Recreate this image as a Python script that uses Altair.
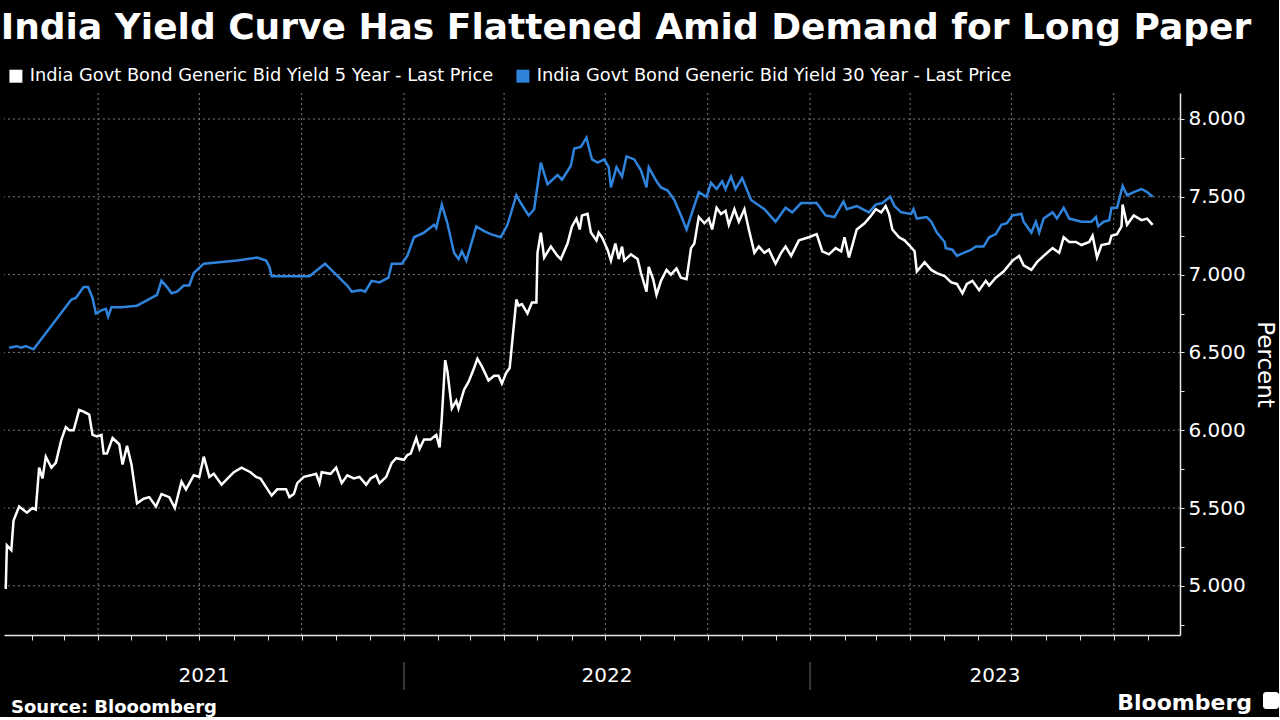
import altair as alt
import pandas as pd

TITLE = "India Yield Curve Has Flattened Amid Demand for Long Paper"
S5 = "India Govt Bond Generic Bid Yield 5 Year - Last Price"
S30 = "India Govt Bond Generic Bid Yield 30 Year - Last Price"
SOURCE = "Source: Blooomberg"
BRAND = "Bloomberg"
Y_TITLE = "Percent"

# days since 2021-01-01 and yields (percent)
d30 = [10, 17, 21, 25, 32, 66, 70, 77, 81, 85,
       88, 93, 97, 99, 102, 111, 125, 138, 143, 147,
       152, 156, 161, 167, 172, 176, 185, 215, 233, 241,
       244, 246, 280, 294, 314, 318, 326, 330, 336, 343,
       351, 354, 363, 368, 374, 383, 392, 394, 399, 404,
       410, 414, 417, 421, 430, 437, 443, 452, 458, 466,
       470, 477, 482, 488, 494, 503, 507, 515, 518, 524,
       529, 530, 534, 539, 545, 549, 551, 556, 561, 565,
       572, 578, 583, 585, 592, 596, 602, 608, 614, 619,
       624, 630, 637, 641, 646, 651, 654, 659, 663, 669,
       677, 689, 699, 708, 714, 722, 736, 744, 752, 760,
       763, 772, 783, 789, 795, 802, 806, 812, 821, 823,
       826, 835, 839, 844, 851, 852, 858, 862, 868, 875,
       879, 886, 891, 897, 902, 907, 912, 920, 922, 929,
       933, 936, 940, 948, 952, 958, 963, 974, 983, 987,
       989, 994, 999, 1001, 1006, 1011, 1015, 1021, 1028, 1033,
       1038]
v30 = [6.53, 6.54, 6.53, 6.54, 6.52, 6.84, 6.85, 6.92, 6.92, 6.85,
       6.75, 6.77, 6.78, 6.73, 6.79, 6.79, 6.80, 6.85, 6.87, 6.96,
       6.92, 6.88, 6.89, 6.93, 6.93, 7.01, 7.07, 7.09, 7.11, 7.09,
       7.05, 6.99, 6.99, 7.07, 6.93, 6.89, 6.90, 6.89, 6.96, 6.95,
       6.98, 7.07, 7.07, 7.12, 7.24, 7.27, 7.32, 7.30, 7.45, 7.33,
       7.14, 7.10, 7.15, 7.09, 7.31, 7.28, 7.26, 7.24, 7.32, 7.51,
       7.46, 7.38, 7.42, 7.72, 7.58, 7.64, 7.61, 7.70, 7.81, 7.82,
       7.88, 7.85, 7.74, 7.72, 7.74, 7.69, 7.56, 7.69, 7.63, 7.76,
       7.74, 7.67, 7.56, 7.69, 7.60, 7.56, 7.54, 7.48, 7.38, 7.29,
       7.40, 7.53, 7.50, 7.59, 7.55, 7.60, 7.55, 7.63, 7.55, 7.62,
       7.48, 7.42, 7.34, 7.43, 7.40, 7.46, 7.46, 7.38, 7.37, 7.47,
       7.42, 7.44, 7.40, 7.45, 7.46, 7.50, 7.44, 7.40, 7.39, 7.42,
       7.36, 7.37, 7.34, 7.27, 7.21, 7.17, 7.16, 7.12, 7.14, 7.16,
       7.18, 7.18, 7.24, 7.26, 7.32, 7.33, 7.38, 7.39, 7.34, 7.27,
       7.34, 7.27, 7.36, 7.40, 7.36, 7.43, 7.36, 7.34, 7.34, 7.37,
       7.31, 7.34, 7.35, 7.43, 7.43, 7.57, 7.51, 7.53, 7.55, 7.53,
       7.50]

d5 = [7, 8, 12, 14, 19, 26, 31, 34, 37, 40,
      43, 48, 52, 57, 61, 64, 68, 73, 77, 82,
      85, 89, 93, 95, 98, 103, 109, 112, 116, 120,
      125, 131, 136, 142, 147, 154, 159, 165, 169, 176,
      181, 185, 190, 194, 201, 212, 219, 227, 232, 236,
      246, 251, 259, 262, 266, 269, 275, 281, 286, 289,
      291, 299, 304, 309, 314, 320, 325, 331, 335, 340,
      343, 349, 354, 358, 365, 368, 371, 376, 379, 383,
      389, 394, 397, 399, 402, 404, 408, 412, 414, 419,
      423, 428, 431, 435, 441, 446, 450, 453, 457, 460,
      466, 468, 471, 476, 480, 484, 485, 488, 491, 497,
      503, 506, 512, 516, 520, 523, 525, 530, 533, 538,
      540, 543, 548, 551, 555, 558, 561, 563, 569, 575,
      578, 583, 585, 589, 592, 596, 601, 605, 610, 614,
      619, 623, 626, 630, 635, 639, 642, 646, 650, 654,
      657, 662, 666, 671, 675, 680, 684, 689, 693, 699,
      704, 708, 713, 720, 729, 736, 741, 747, 753, 758,
      761, 765, 772, 779, 785, 789, 794, 798, 801, 804,
      810, 815, 819, 824, 826, 833, 839, 844, 851, 857,
      862, 867, 871, 876, 882, 888, 891, 897, 904, 912,
      918, 922, 929, 934, 940, 948, 954, 958, 963, 969,
      974, 981, 984, 988, 992, 999, 1001, 1006, 1010, 1011,
      1015, 1021, 1028, 1033, 1038]
v5 = [4.98, 5.26, 5.23, 5.42, 5.51, 5.47, 5.50, 5.49, 5.76, 5.69,
      5.83, 5.76, 5.79, 5.94, 6.02, 6.00, 6.00, 6.13, 6.12, 6.10,
      5.97, 5.96, 5.97, 5.85, 5.85, 5.95, 5.91, 5.78, 5.90, 5.78,
      5.53, 5.56, 5.57, 5.51, 5.59, 5.57, 5.50, 5.67, 5.62, 5.71,
      5.70, 5.83, 5.70, 5.72, 5.65, 5.73, 5.76, 5.73, 5.70, 5.69,
      5.58, 5.62, 5.62, 5.57, 5.59, 5.66, 5.70, 5.71, 5.72, 5.66,
      5.73, 5.72, 5.76, 5.66, 5.71, 5.69, 5.70, 5.65, 5.69, 5.71,
      5.66, 5.70, 5.79, 5.82, 5.81, 5.84, 5.85, 5.95, 5.88, 5.94,
      5.94, 5.97, 5.89, 6.08, 6.45, 6.38, 6.14, 6.19, 6.14, 6.26,
      6.31, 6.40, 6.46, 6.41, 6.32, 6.35, 6.35, 6.30, 6.37, 6.40,
      6.84, 6.80, 6.81, 6.75, 6.82, 6.82, 7.14, 7.27, 7.11, 7.18,
      7.12, 7.10, 7.20, 7.31, 7.36, 7.29, 7.38, 7.39, 7.27, 7.22,
      7.27, 7.24, 7.16, 7.09, 7.20, 7.10, 7.18, 7.09, 7.13, 7.10,
      7.01, 6.89, 7.05, 6.97, 6.87, 6.96, 7.03, 7.00, 7.04, 6.98,
      6.97, 7.17, 7.20, 7.37, 7.33, 7.36, 7.29, 7.43, 7.39, 7.41,
      7.32, 7.42, 7.34, 7.42, 7.29, 7.14, 7.18, 7.14, 7.16, 7.07,
      7.14, 7.18, 7.12, 7.22, 7.24, 7.26, 7.15, 7.13, 7.17, 7.15,
      7.24, 7.11, 7.29, 7.33, 7.38, 7.42, 7.40, 7.44, 7.39, 7.29,
      7.24, 7.22, 7.19, 7.15, 7.02, 7.08, 7.03, 7.01, 6.99, 6.95,
      6.94, 6.88, 6.94, 6.96, 6.90, 6.96, 6.93, 6.98, 7.02, 7.09,
      7.12, 7.06, 7.03, 7.08, 7.12, 7.17, 7.14, 7.24, 7.21, 7.21,
      7.19, 7.21, 7.25, 7.11, 7.19, 7.20, 7.25, 7.26, 7.31, 7.45,
      7.32, 7.38, 7.35, 7.36, 7.32]

years = [2021, 2022, 2023]
year_labels = ["2021", "2022", "2023"]
y_tick_values = [4.75, 5.0, 5.25, 5.5, 5.75, 6.0, 6.25, 6.5, 6.75, 7.0, 7.25, 7.5, 7.75, 8.0]
y_grid_values = [5.0, 5.5, 6.0, 6.5, 7.0, 7.5, 8.0]
y_domain = [4.684, 8.167]
x_start = pd.Timestamp("2021-01-06 10:00")
x_end = pd.Timestamp("2023-11-29 14:00")

W, H = 1176, 542
WHITE = "#ffffff"
BLUE = "#2f83db"
GRID = "#7c7c7c"
FONT = "DejaVu Sans"

origin = pd.Timestamp("2021-01-01")
df = pd.concat([
    pd.DataFrame({"date": origin + pd.to_timedelta(d5, unit="D"), "value": v5, "series": S5}),
    pd.DataFrame({"date": origin + pd.to_timedelta(d30, unit="D"), "value": v30, "series": S30}),
], ignore_index=True)


def dt(ts):
    return alt.DateTime(year=ts.year, month=ts.month, date=ts.day, hours=ts.hour)


xscale = alt.Scale(domain=[dt(x_start), dt(x_end)], nice=False)
yscale = alt.Scale(domain=y_domain, nice=False, zero=False)

month_starts = pd.date_range("2021-02-01", "2023-11-01", freq="MS")
month_ticks = [dt(m) for m in month_starts]
quarters = pd.DataFrame({"date": [m for m in month_starts if m.month in (1, 4, 7, 10)]})

X_AXIS = alt.Axis(values=month_ticks, labels=False, grid=False, ticks=True,
                  tickSize=5, title=None, domainWidth=1.5)
Y_AXIS = alt.Axis(orient="right", values=y_tick_values, grid=False,
                  labelExpr="datum.value % 0.5 === 0 ? format(datum.value, '.3f') : ''",
                  tickSize=4, labelPadding=4, title=Y_TITLE, titlePadding=7,
                  domainWidth=1.5)

# year label positions: middle of the visible part of each year
yl = []
for yr, lab in zip(years, year_labels):
    a = max(pd.Timestamp(f"{yr}-01-01"), x_start)
    b = min(pd.Timestamp(f"{yr + 1}-01-01"), x_end)
    yl.append({"date": a + (b - a) / 2, "label": lab})
year_df = pd.DataFrame(yl)
sep_df = pd.DataFrame({"date": [pd.Timestamp(f"{yr}-01-01") for yr in years[1:]]})

hgrid = alt.Chart(pd.DataFrame({"value": y_grid_values})).mark_rule(
    color=GRID, strokeDash=[2, 3], strokeWidth=1
).encode(y=alt.Y("value:Q", scale=yscale, axis=Y_AXIS))

vgrid = alt.Chart(quarters).mark_rule(
    color=GRID, strokeDash=[2, 3], strokeWidth=1
).encode(x=alt.X("date:T", scale=xscale, axis=X_AXIS))

lines = alt.Chart(df).mark_line(strokeWidth=2.5).encode(
    x=alt.X("date:T", scale=xscale, axis=X_AXIS),
    y=alt.Y("value:Q", scale=yscale, axis=Y_AXIS),
    color=alt.Color("series:N",
                    scale=alt.Scale(domain=[S5, S30], range=[WHITE, BLUE]),
                    legend=alt.Legend(orient="none", legendX=3, legendY=-26,
                                      direction="horizontal", title=None,
                                      symbolType="square", symbolSize=25,
                                      symbolStrokeWidth=8, labelColor=WHITE,
                                      labelFont=FONT, labelFontSize=17.8, labelLimit=0,
                                      columnPadding=10, padding=0, labelOffset=5)),
    order=alt.Order("series:N", sort="descending"),
)

seps = alt.Chart(sep_df).mark_rule(color="#6a6a6a", strokeWidth=1).encode(
    x=alt.X("date:T", scale=xscale, axis=X_AXIS),
    y=alt.value(H + 27), y2=alt.value(H + 55),
)

ylabels = alt.Chart(year_df).mark_text(
    color=WHITE, font=FONT, fontSize=20, baseline="middle", align="center"
).encode(
    x=alt.X("date:T", scale=xscale, axis=X_AXIS),
    y=alt.value(H + 41),
    text="label:N",
)

one = pd.DataFrame({"t": [SOURCE], "b": [BRAND]})
source = alt.Chart(one).mark_text(
    color=WHITE, font=FONT, fontSize=18, fontWeight="bold", align="left", baseline="alphabetic"
).encode(x=alt.value(7), y=alt.value(H + 78), text="t:N")

brand = alt.Chart(one).mark_text(
    color=WHITE, font=FONT, fontSize=22, fontWeight="bold", align="right", baseline="alphabetic"
).encode(x=alt.value(1248), y=alt.value(H + 75), text="b:N")

icon = alt.Chart(one).mark_rect(color=WHITE, cornerRadius=3).encode(
    x=alt.value(1259), x2=alt.value(1275), y=alt.value(H + 57), y2=alt.value(H + 74)
)

chart = alt.layer(hgrid, vgrid, lines, seps, ylabels, source, brand, icon).properties(
    width=W, height=H, background="#000000",
    padding={"left": 0, "top": 10, "right": 0, "bottom": 0},
    title=alt.Title(TITLE, anchor="start", font=FONT, fontSize=36, fontWeight="bold",
                    color=WHITE, offset=20),
).configure_view(stroke=None).configure_axis(
    labelFont=FONT, labelFontSize=20, labelColor=WHITE,
    domainColor="#e6e6e6", tickColor="#e6e6e6",
    titleFont=FONT, titleFontSize=23, titleFontWeight="normal", titleColor=WHITE,
)

chart.save("out.html", embed_options={"renderer": "svg", "actions": False})
